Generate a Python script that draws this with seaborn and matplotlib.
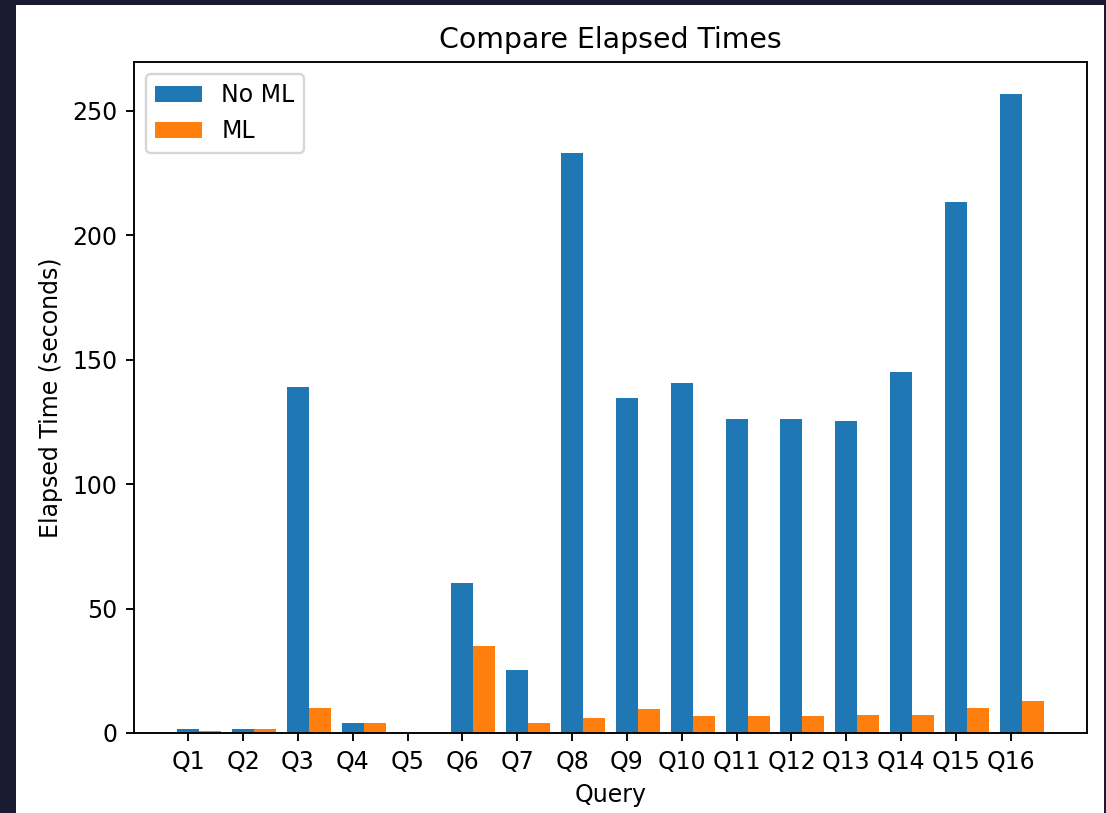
import numpy as np
import pandas as pd
import seaborn as sns
import matplotlib
matplotlib.use("Agg")
import matplotlib.pyplot as plt
from matplotlib.patches import Rectangle

queries = [f"Q{i}" for i in range(1, 17)]
no_ml = [1.5, 1.5, 138.9, 3.9, 0, 60.3, 25.3, 233.0, 134.6, 140.7, 126.2, 126.2, 125.4, 145.1, 213.4, 256.7]
ml = [1.0, 1.5, 10.0, 3.9, 0, 35.0, 3.9, 6.0, 9.5, 6.7, 6.7, 6.7, 7.4, 7.4, 10.0, 12.9]

df = pd.DataFrame({
    "Query": queries * 2,
    "Elapsed": no_ml + ml,
    "Mode": ["No ML"] * len(queries) + ["ML"] * len(queries),
})

fig = plt.figure(figsize=(1106 / 170, 813 / 170), dpi=170)
fig.patch.set_facecolor("#1a1b33")
# white screenshot area inside the dark frame
fig.patches.append(Rectangle((16 / 1106, 0), (1104 - 16) / 1106, (813 - 5) / 813,
                             transform=fig.transFigure, facecolor="white",
                             edgecolor="none", zorder=-10))

ax = fig.add_axes([134 / 1106, (813 - 733) / 813, (1087 - 134) / 1106, (733 - 62) / 813])
ax.set_zorder(1)

sns.barplot(data=df, x="Query", y="Elapsed", hue="Mode", ax=ax,
            palette=["#1f77b4", "#ff7f0e"], saturation=1, errorbar=None,
            width=0.8, linewidth=0)

# ticks sit on the centre of the "No ML" bar, default 5% margins
pos = np.arange(len(queries)) - 0.2
ax.set_xticks(pos, queries)
span = (pos[-1] + 0.6) - (pos[0] - 0.2)
ax.set_xlim(pos[0] - 0.2 - 0.05 * span, pos[-1] + 0.6 + 0.05 * span)
ax.set_ylim(0, 269.5)
ax.set_yticks([0, 50, 100, 150, 200, 250])

ax.set_title("Compare Elapsed Times")
ax.set_xlabel("Query")
ax.set_ylabel("Elapsed Time (seconds)")
ax.legend(loc="upper left")

fig.savefig("out.png", dpi=170, facecolor=fig.get_facecolor())
